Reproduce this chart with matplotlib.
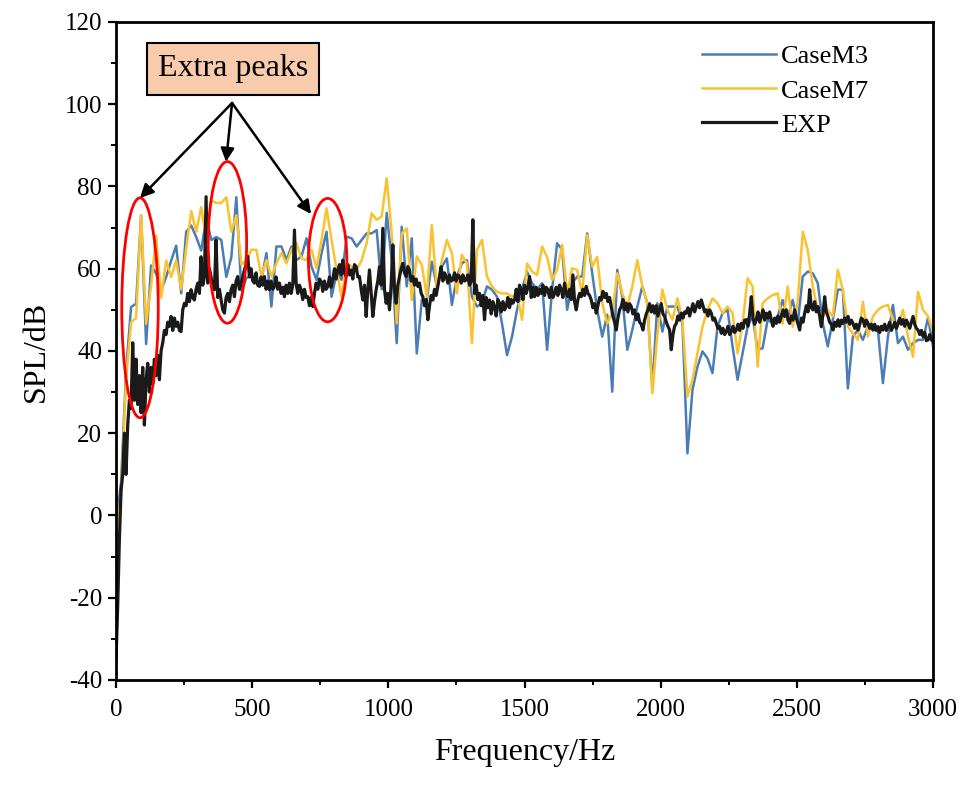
import numpy as np
import matplotlib.pyplot as plt
from matplotlib.patches import Ellipse
from matplotlib.ticker import MultipleLocator

plt.rcParams['font.family'] = ['Liberation Serif', 'DejaVu Serif']
plt.rcParams['axes.unicode_minus'] = False

# Simulated spectra (uniform bins, 0-3000 Hz)
case_m3 = [
    -2, 8, 35, 50.7, 51.5, 73, 41.7, 60.8, 58.8, 54.7,
    58, 62, 65.6, 54, 69, 70.5, 67.7, 64.4, 72.5, 67,
    67.7, 67, 58, 62.8, 77.4, 54.7, 57.7, 58.5, 56.5, 57.3,
    63.8, 50.8, 65.4, 65.4, 62.1, 65.4, 62.1, 63, 67.4, 60.5,
    57.3, 63.8, 69, 53.2, 58.9, 57.3, 67.8, 67.4, 65.4, 67,
    68.6, 68.6, 69.4, 55, 73.6, 62, 41.9, 70.2, 55.7, 67.4,
    39.4, 52.4, 52.4, 61.7, 55.7, 60.5, 62.5, 51.2, 58.1, 61.3,
    62.1, 53.2, 50.8, 51.6, 55.7, 54.9, 53.2, 46.7, 39, 43.5,
    50, 54.9, 59.3, 56.5, 54.9, 56.5, 40.3, 54.9, 66.2, 64.6,
    50, 56.5, 58.1, 58.1, 68.6, 58.9, 50, 43.5, 48.8, 30.1,
    59.7, 53.2, 40.3, 45.1, 50.8, 55.7, 51.6, 30.9, 51.6, 44.7,
    50.8, 50.8, 50.8, 46.7, 15.1, 30.5, 36.2, 39.9, 38.2, 34.6,
    45.9, 49.2, 50, 41.1, 33, 39.4, 45.9, 48.4, 40.3, 40.7,
    47.6, 46.7, 48.4, 52.4, 48, 52.4, 46.7, 58.1, 59.3, 58.9,
    56.5, 46.7, 41.1, 47.6, 54.9, 54.9, 30.9, 43.5, 45.1, 42.7,
    45.9, 45.1, 45.1, 32.2, 43.5, 51.2, 41.9, 43.5, 40.3, 41.9,
    42.7, 42.7, 48.1, 41.1,
]

case_m7 = [
    -5, 5, 33, 47, 48, 73, 46.6, 56, 68, 53,
    62, 58, 62, 55, 65, 74, 69, 75, 67, 76.6,
    76, 76, 77.4, 69, 73, 61, 62, 64.6, 64.6, 58.1,
    62.1, 58.1, 61.3, 63.8, 61.3, 64.6, 66.2, 62.5, 62.1, 64.6,
    60.1, 67, 74.7, 67, 59.7, 53.2, 61.3, 60.5, 59.7, 62.1,
    66.2, 73.5, 71.9, 72.7, 82, 68.6, 46.7, 68.6, 69.8, 52.4,
    63, 60.9, 53.2, 70.6, 54.9, 62.1, 67, 63.8, 54, 63.4,
    61.3, 41.9, 64.6, 67, 58.1, 55.7, 54.4, 54, 54, 53.2,
    54, 47.6, 61.3, 59.3, 58.5, 65.4, 62.9, 57.3, 59.7, 65.8,
    54, 60.1, 59.7, 54, 68.2, 60.5, 62.9, 51.6, 46.7, 49.2,
    58.9, 54, 50.8, 55.7, 62.1, 55.7, 51.6, 29.7, 44, 54.9,
    50, 47.6, 52.8, 47.6, 28.9, 33, 39.4, 45.9, 50, 52.8,
    51.6, 49.2, 50.8, 49.2, 39.4, 46.7, 57.7, 55.7, 36.2, 51.6,
    52.8, 53.6, 54, 46.7, 55.7, 45.9, 52, 69, 64.6, 55.7,
    50, 48.4, 50, 48.4, 59.7, 54.9, 45.9, 44.3, 42.7, 52,
    43.5, 48.4, 50, 50.8, 51.2, 47.6, 45.9, 50, 43.5, 38.6,
    54.4, 50, 48.4, 44.7,
]

# Measured spectrum (finer bins, 0-3000 Hz)
exp_spl = [
    -35, -22, -6, 6, 10, 20, 10, 22, 28, 26,
    42, 28, 38, 27, 34, 25, 36, 22, 33, 37,
    30, 36, 32, 38, 34, 39, 33, 40, 42, 45,
    44, 47, 46, 48.4, 45, 48, 46, 47, 45, 44.7,
    50, 51.6, 51, 54, 52, 54.9, 53, 52.4, 55, 56.5,
    54, 62.9, 56, 58, 77.5, 56.5, 60, 58, 55, 54.9,
    67, 53, 55, 52.4, 50, 49.2, 53, 54, 52, 54.9,
    56, 53.2, 57, 58.1, 55, 56.5, 58, 59.7,
    61, 63, 58, 60, 57, 56.5, 59, 56, 55.7, 58,
    56, 58.1, 55, 57, 54.9, 57, 55, 55.7, 58, 55,
    56.5, 54, 55.5, 53.2, 56, 54, 56.5, 54, 56, 69.4,
    56.5, 54, 56, 54.9, 52.5, 55, 53, 53.2, 51, 53,
    50.8, 54, 56.5, 55, 57.5, 56.9, 54.5, 57, 55, 55.7,
    58, 55.5, 57.3, 60, 57.5, 59.7, 61, 58.5, 62.1, 59,
    58.1, 61, 58.5, 59.7, 57.5, 61, 60.5, 58, 58.1, 55,
    52.4, 56, 48.4, 55, 59.7, 54, 48.4, 52, 54.9, 57,
    60.5, 56, 69.8, 55, 51.6, 54, 50, 56, 65.8, 55,
    51.6, 56, 58.1, 60, 61.3, 59, 58.1, 60.5, 59.7, 57,
    58.1, 56, 57.5, 55.7, 56.5, 54, 53.2, 51, 52.5, 47.6,
    51, 53.5, 52.4, 55, 53.5, 55.7, 58, 60.5, 57, 59,
    58.1, 56.5, 58.5, 57, 57.3, 59, 57, 58.5, 58.1, 56.5,
    58.5, 57, 57.3, 58.5, 56, 56.9, 71.9, 54, 56, 52.5,
    54, 51, 53.5, 47.6, 53, 50.5, 52.4, 49, 52, 50.8,
    48.5, 52.5, 51.6, 49.5, 52, 50, 50.8, 53, 50.5, 52.5,
    51.6, 52.4, 55, 52, 56, 54.9, 52.5, 56, 54, 55.5,
    58.1, 53, 55.5, 53.2, 55.5, 53.5, 55, 54, 56, 53.5,
    55.5, 54.9, 53, 55.5, 53, 54, 55.5, 53.5, 56, 54.9,
    53, 56.5, 54, 53.2, 55, 52.5, 58.5, 52, 50, 52.5,
    54, 53.2, 55, 53.5, 55.7, 54, 53.5, 52.4, 50.5, 51.5,
    49.2, 51, 53, 52.4, 54.5, 53, 54, 52, 53, 50.8,
    48.5, 47, 45.1, 48, 50, 50.8, 52.5, 50, 51.6, 49.5,
    51.5, 50.8, 49, 50, 47.6, 49, 47, 46.5, 45.1, 47.5,
    49, 50, 51.5, 49.5, 51, 49.2, 51, 48.5, 50, 51.5,
    49, 48.4, 47, 46, 45.1, 40.3, 44, 46, 46.7, 48.5,
    47.5, 49.2, 48, 49.5, 49.2, 50.5, 48.5, 50, 51.5, 49.5,
    50.8, 52, 50.5, 52.4, 51, 49.5, 50, 48.5, 50, 49.2,
    47.5, 48, 46.7, 45.5, 46, 44.3, 45.5, 44, 44.7, 46,
    44, 44.7, 46, 44.5, 45.1, 46.5, 45, 46.7, 45.5, 47.5,
    47.6, 46, 49, 53.2, 48, 46.5, 47.6, 49.5, 47, 48.4,
    50, 47.5, 49.2, 48, 49.5, 47.6, 46, 48, 46.7, 48.5,
    47, 48.4, 50, 48.4, 50, 47.5, 46.7, 48.5, 47.5, 50,
    48, 46.5, 45.1, 48, 47, 49.2, 51, 49.5, 54.9, 50.5,
    50, 52, 49.5, 50.8, 48.5, 45.9, 49, 53.2, 49.5, 48.4,
    47, 46.5, 45.1, 47, 46, 47.6, 46, 47.5, 46.7, 48,
    47, 48.4, 46.5, 47.5, 46.7, 45.5, 46.5, 45.1, 46.5, 48,
    47.6, 46, 47.5, 46.7, 45.5, 46.5, 45.1, 46.5, 45, 45.9,
    44.5, 46, 45.1, 46.5, 45, 45.9, 47, 45, 45.9, 47,
    45.5, 46.7, 48, 46.5, 47.6, 46, 47.5, 46.7, 45.5, 47,
    48.4, 46.5, 45.5, 45.1, 44, 45, 43.5, 44.5, 42.5, 42.7,
    44, 42.7, 42.5,
]

sim_freq = np.linspace(0, 3000, len(case_m3))
exp_freq = np.linspace(0, 3000, len(exp_spl))

# Highlighted regions (centre freq, centre SPL, width Hz, height dB)
peak_regions = [(88, 50.5, 134, 53.5), (409, 66.4, 141, 39.3), (777, 62.1, 141, 30)]
arrow_tips = [(88, 77.2), (404, 86), (716, 73.3)]
arrow_origin = (426, 100.3)

fig = plt.figure(figsize=(9.63, 7.85), dpi=100)
ax = fig.add_axes([0.1205, 0.1338, 0.8484, 0.8382])

ax.plot(sim_freq, case_m3, color='#4a7db5', lw=1.8, label='CaseM3')
ax.plot(sim_freq, case_m7, color='#fbc230', lw=1.8, label='CaseM7')
ax.plot(exp_freq, exp_spl, color='#1a1a1a', lw=2.3, label='EXP')

for cx, cy, w, h in peak_regions:
    ax.add_patch(Ellipse((cx, cy), w, h, fill=False, edgecolor='red', lw=2.0, zorder=5))

for tx, ty in arrow_tips:
    ax.annotate('', xy=(tx, ty), xytext=arrow_origin,
                arrowprops=dict(arrowstyle='-|>', color='black', lw=1.8,
                                mutation_scale=20, shrinkA=0, shrinkB=0), zorder=6)

ax.text(430, 108.6, 'Extra peaks', ha='center', va='center', fontsize=23, zorder=7,
        bbox=dict(boxstyle='square,pad=0.35', fc='#f8cbad', ec='black', lw=1.5))

ax.set_xlim(0, 3000)
ax.set_ylim(-40, 120)
ax.xaxis.set_major_locator(MultipleLocator(500))
ax.xaxis.set_minor_locator(MultipleLocator(250))
ax.yaxis.set_major_locator(MultipleLocator(20))
ax.yaxis.set_minor_locator(MultipleLocator(10))
ax.tick_params(which='major', direction='out', length=6, width=1.6, labelsize=18)
ax.tick_params(which='minor', direction='out', length=3.5, width=1.4)
ax.tick_params(axis='x', pad=8)
ax.tick_params(axis='y', pad=4)
for sp in ax.spines.values():
    sp.set_linewidth(2.0)

ax.set_xlabel('Frequency/Hz', fontsize=23, labelpad=12)
ax.set_ylabel('SPL/dB', fontsize=23, labelpad=10)

ax.legend(loc='upper left', bbox_to_anchor=(0.717, 0.965), frameon=False,
          fontsize=19, handlelength=2.8, handletextpad=0.2, labelspacing=0.4,
          borderpad=0, borderaxespad=0)

fig.savefig('out.png', dpi=100)
